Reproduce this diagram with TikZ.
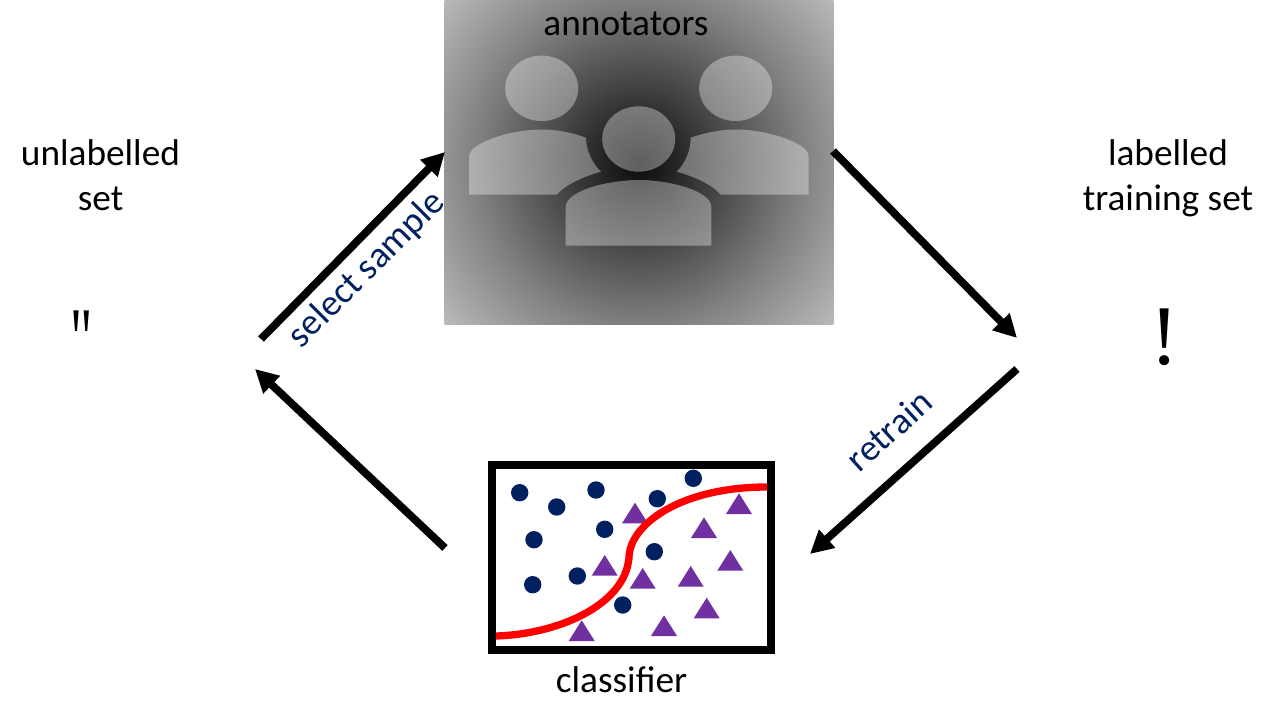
\documentclass[tikz,border=0pt]{standalone}
\usepackage{fontspec}
\setmainfont{Carlito}
\newfontfamily\markfont{Liberation Serif}
\usetikzlibrary{arrows.meta}
\definecolor{navy}{RGB}{0,32,96}
\definecolor{violet}{RGB}{112,48,160}
\pgfdeclareradialshading{annotglow}{\pgfpoint{0bp}{0bp}}{
  color(0bp)=(black!96);
  color(80bp)=(black!73);
  color(161bp)=(black!50);
  color(254bp)=(black!27)}
\tikzset{
  x=1pt,y=-1pt,
  lbl/.style={font=\fontsize{37.3}{45}\selectfont,align=center,text=black,inner sep=0pt},
  actionlbl/.style={font=\fontsize{37}{40}\selectfont,text=navy,inner sep=0pt},
  flow/.style={line width=7.8pt,draw=black,-{Triangle[length=23pt,width=23pt]}},
  person/.style={fill=white,fill opacity=0.35,draw=none},
  dot/.style={fill=navy,draw=none},
  tri/.style={fill=violet,draw=none},
}
\newcommand{\tria}[2]{\fill[tri] (#1,#2) -- ++(13,20.7) -- ++(-26,0) -- cycle;}
\newcommand{\dotc}[2]{\fill[dot] (#1,#2) circle[radius=8.7pt];}
\begin{document}
\begin{tikzpicture}
\useasboundingbox (0,0) rectangle (1280,720);
\begin{scope}
\clip (444.7,0) rectangle (833.3,324);
\node[inner sep=0pt,outer sep=0pt] (glow) at (638.7,162) {\pgfuseshading{annotglow}};
\end{scope}
% people
\fill[person] (541.7,88.3) ellipse[x radius=36.5pt,y radius=32.7pt];
\fill[person] (735.7,88.3) ellipse[x radius=36.5pt,y radius=32.7pt];
\fill[person] (638.7,139) ellipse[x radius=36.5pt,y radius=32.7pt];
\fill[person] (565.7,245.7) -- (565.7,207) .. controls (566,190) and (610,180) .. (638.7,180)
   .. controls (667,180) and (711,190) .. (711.3,207) -- (711.3,245.7) -- cycle;
\fill[person] (469,194.7) -- (469,156) .. controls (470,143) and (510,129.5) .. (541.7,129.5)
   .. controls (558,129.5) and (573,133) .. (586,137.7)
   .. controls (586,150) and (592,163) .. (601,171.7)
   .. controls (582,177) and (565,185) .. (556.7,194.7) -- cycle;
\fill[person] (808.7,194.7) -- (808.7,156) .. controls (807.7,143) and (767.7,129.5) .. (735.7,129.5)
   .. controls (719.7,129.5) and (704.7,133) .. (690.7,137.7)
   .. controls (690.7,150) and (685.7,163) .. (676.7,171.7)
   .. controls (695.7,177) and (712.7,185) .. (720.7,194.7) -- cycle;
% texts
\node[lbl] (annot) at (626,24) {annotators};
\node[lbl] (unl) at (100.5,175) {unlabelled\\set};
\node[lbl] (lab) at (1168,178) {labelled\\training set};
\node[lbl] (cls) at (621.5,680) {classifier};
\node[inner sep=0pt,xscale=0.62,font=\markfont\fontsize{88}{88}\selectfont] (ql) at (81.5,340) {"};
\node[inner sep=0pt,font=\markfont\fontsize{85}{85}\selectfont] (ex) at (1165,337) {!};
% classifier
\node[draw=black,line width=7.5pt,outer sep=0pt,minimum width=279pt,minimum height=185pt,inner sep=0pt] (box) at (631.5,557.5) {};
\dotc{519.7}{492.7}\dotc{556.7}{507}\dotc{596}{490}\dotc{657.3}{498.7}\dotc{693.3}{478.3}
\dotc{604.7}{529.3}\dotc{534}{539.7}\dotc{654.3}{551.7}\dotc{577.3}{576}\dotc{532.7}{584.7}\dotc{622.7}{605}
\tria{635}{502.7}\tria{739}{493.3}\tria{704}{517.3}\tria{604.7}{555}\tria{730.3}{550}
\tria{690.7}{566}\tria{642.7}{568}\tria{706.7}{597.7}\tria{664}{615.3}\tria{581.7}{620.3}
\draw[red,line width=7.3pt] (496,636) .. controls (560,634) and (620,605) .. (628,564)
   -- (629,558) .. controls (629,525) and (680,487) .. (767,487);
% arrows
\coordinate (a1) at (261,339); \coordinate (a2) at (445,152);
\coordinate (b1) at (833,151); \coordinate (b2) at (1017,338);
\coordinate (c1) at (1017,369); \coordinate (c2) at (810,554);
\coordinate (d1) at (445,548); \coordinate (d2) at (255,369);
\draw[flow] (a1) -- (a2);
\draw[flow] (b1) -- (b2);
\draw[flow] (c1) -- (c2);
\draw[flow] (d1) -- (d2);
\node[actionlbl,rotate=45] (sel) at (367,270) {select sample};
\node[actionlbl,rotate=42] (ret) at (889,430) {retrain};
\end{tikzpicture}
\end{document}
